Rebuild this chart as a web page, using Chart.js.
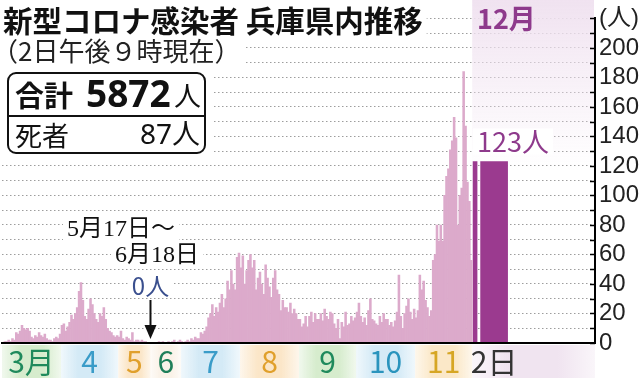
<!DOCTYPE html>
<html lang="ja">
<head>
<meta charset="utf-8">
<script src="https://cdn.jsdelivr.net/npm/chart.js@4.4.0/dist/chart.umd.min.js"></script>
<style>
html, body { margin: 0; padding: 0; background: #fff; }
canvas { display: block; }
</style>
</head>
<body>
<canvas id="kansenChart" width="640" height="378"></canvas>
<script>
// 兵庫県内の新規感染者（日別）。5月18日～6月14日は0人なので省略
const monthLabels = ['3月', '4', '5', '6', '7', '8', '9', '10', '11', '2日'];
const march = [0, 1, 1, 2, 1, 3, 2, 7, 6, 8, 12, 10, 9, 10, 8, 4, 3, 5, 4, 7, 5, 4, 6, 3, 2, 2, 1, 3, 4, 3, 6];
const april = [12, 13, 8, 11, 14, 19, 16, 20, 24, 35, 41, 29, 18, 16, 23, 30, 26, 20, 16, 14, 20, 18, 24, 16, 10, 8, 7, 5, 4, 5];
const may = [4, 8, 3, 2, 4, 3, 2, 7, 1, 2, 2, 1, 2, 1, 1, 0, 0];           // 5/1～5/17
const june = [0, 0, 0, 0, 1, 0, 1, 0, 0, 1, 0, 1, 2, 0, 1, 2];             // 6/15～6/30
const july = [1, 0, 1, 2, 1, 3, 2, 4, 3, 3, 7, 6, 8, 11, 17, 20, 26, 18, 24, 21, 27, 33, 24, 30, 42, 36, 49, 40, 36, 58, 61];
const aug = [51, 59, 40, 49, 56, 60, 51, 56, 36, 44, 48, 40, 33, 53, 44, 38, 31, 44, 49, 36, 33, 22, 29, 24, 24, 21, 27, 20, 23, 20, 16];
const sep = [16, 11, 13, 18, 11, 18, 21, 14, 20, 16, 16, 20, 15, 23, 18, 16, 21, 20, 13, 10, 16, 3, 14, 11, 21, 12, 13, 18, 15, 17];
const oct = [21, 27, 18, 14, 17, 12, 22, 30, 16, 15, 13, 12, 18, 14, 20, 16, 16, 12, 14, 11, 15, 21, 46, 18, 10, 20, 25, 30, 21, 16, 23];
const nov = [17, 22, 46, 36, 42, 29, 24, 18, 22, 56, 60, 80, 69, 80, 69, 100, 113, 118, 131, 137, 153, 139, 80, 100, 105, 184, 147, 109, 96, 56];
const dec = [123, 123];
const yMax = 220;
const yUnit = '(人)';

// 月ごとの色
const bandColors = ['214,236,205', '212,234,246', '251,230,200', '250,242,232', '212,234,246', '251,230,200', '214,236,205', '212,234,246', '251,232,200', '240,228,240'];
const labelColors = ['#1f8a5c', '#3a9cc8', '#e0a02c', '#1f7f5a', '#3a9cc8', '#e0a02c', '#1f8a5c', '#2a94bd', '#d6a624', '#333333'];

const dayPoints = [];
const monthRanges = [];
let idx = 0;
[march, april, may, june, july, aug, sep, oct, nov].forEach(m => {
    const start = idx;
    m.forEach(v => dayPoints.push({ x: idx++, y: v }));
    monthRanges.push([start - 0.5, idx - 0.5]);
});
const xMax = idx + 64;
const dec1Point = [{ x: idx + 1, y: dec[0] }];
const dec2Point = [{ x: idx + 11, y: dec[1] }];
monthRanges.push([idx - 0.5, xMax]);
const tickPos = monthRanges.map((r, i) => i < 9 ? (r[0] + r[1]) / 2 : idx + 11);

const jp = '"Noto Sans CJK JP"';

function putText(c, text, x, y, font, color, align, bg) {
    c.font = font;
    c.textAlign = align || 'left';
    c.textBaseline = 'middle';
    if (bg) {
        const w = c.measureText(text).width;
        const lx = align === 'center' ? x - w / 2 : align === 'right' ? x - w : x;
        c.fillStyle = '#fff';
        c.fillRect(lx - 4, y - bg / 2, w + 8, bg);
    }
    c.fillStyle = color;
    c.fillText(text, x, y);
}

const decor = {
    id: 'decor',
    beforeDraw(chart) {
        const { ctx, scales: { x }, chartArea: a } = chart;
        ctx.save();
        monthRanges.forEach((r, i) => {
            const x0 = x.getPixelForValue(r[0]);
            const x1 = Math.min(x.getPixelForValue(r[1]), a.right);
            const g = ctx.createLinearGradient(x0, 0, x1, 0);
            g.addColorStop(0, 'rgba(' + bandColors[i] + ',0.35)');
            g.addColorStop(0.3, 'rgba(' + bandColors[i] + ',1)');
            g.addColorStop(0.7, 'rgba(' + bandColors[i] + ',1)');
            g.addColorStop(1, 'rgba(' + bandColors[i] + ',0.35)');
            ctx.fillStyle = g;
            ctx.fillRect(x0, a.bottom + 2, x1 - x0, chart.height - a.bottom - 2);
        });
        ctx.restore();
    },
    beforeDatasetsDraw(chart) {
        const { ctx, scales: { x }, chartArea: a } = chart;
        const x0 = x.getPixelForValue(monthRanges[9][0]);
        const g = ctx.createLinearGradient(0, 0, 0, 170);
        g.addColorStop(0, 'rgba(240,226,240,1)');
        g.addColorStop(0.35, 'rgba(240,226,240,0.6)');
        g.addColorStop(1, 'rgba(240,226,240,0)');
        ctx.save();
        ctx.fillStyle = g;
        ctx.fillRect(x0, 0, a.right - x0 - 1, 170);
        ctx.restore();
    },
    afterDraw(chart) {
        const { ctx, scales: { x, y }, chartArea: a } = chart;
        ctx.save();
        // 目盛り（内向き）
        ctx.strokeStyle = '#000';
        ctx.lineWidth = 1.5;
        y.ticks.forEach(t => {
            const py = Math.round(y.getPixelForValue(t.value)) + 0.5;
            ctx.beginPath();
            ctx.moveTo(a.right - 5, py);
            ctx.lineTo(a.right, py);
            ctx.stroke();
        });

        // 見出し
        putText(ctx, '新型コロナ感染者 兵庫県内推移', 3, 21, 'bold 29.5px ' + jp, '#111', 'left', 36);
        putText(ctx, '（2日午後９時現在）', -8, 51, '26px ' + jp, '#222', 'left', 24);

        // 合計の枠
        ctx.fillStyle = '#fff';
        ctx.fillRect(0, 67, 214, 92);
        ctx.lineWidth = 2;
        ctx.strokeStyle = '#111';
        ctx.beginPath();
        ctx.roundRect(8, 73, 197, 80, 8);
        ctx.stroke();
        ctx.beginPath();
        ctx.moveTo(8, 116);
        ctx.lineTo(205, 116);
        ctx.stroke();
        putText(ctx, '合計', 15, 96, 'bold 29px ' + jp, '#111');
        putText(ctx, '5872', 86, 96, 'bold 37px "Noto Sans"', '#111');
        putText(ctx, '人', 174, 96, '27px ' + jp, '#111');
        putText(ctx, '死者', 15, 136, '27px ' + jp, '#111');
        putText(ctx, '87人', 200, 136, '28px "Noto Sans", ' + jp, '#111', 'right');

        // 12月
        putText(ctx, '12月', 477, 19, 'bold 27px "Liberation Sans Narrow", ' + jp, '#8e3a8c');
        putText(ctx, '123人', 477, y.getPixelForValue(dec[1]) - 20, '27px "Liberation Sans Narrow", ' + jp, '#8e3a8c', 'left', 26);

        // 0人の期間
        const ax = x.getPixelForValue(monthRanges[2][1]);
        putText(ctx, '5月17日～', 67, 230, '24px "Liberation Serif", ' + jp, '#111', 'left', 26);
        putText(ctx, '6月18日', 115, 256, '24px "Liberation Serif", ' + jp, '#111', 'left', 26);
        putText(ctx, '0人', ax, 286, '24px ' + jp, '#3a4f8e', 'center', 24);
        ctx.strokeStyle = '#111';
        ctx.lineWidth = 2;
        ctx.beginPath();
        ctx.moveTo(ax, 300);
        ctx.lineTo(ax, 327);
        ctx.stroke();
        ctx.fillStyle = '#111';
        ctx.beginPath();
        ctx.moveTo(ax - 6, 325);
        ctx.lineTo(ax + 6, 325);
        ctx.lineTo(ax, 339);
        ctx.closePath();
        ctx.fill();
        ctx.restore();
    }
};

const ctx = document.getElementById('kansenChart').getContext('2d');

const myChart = new Chart(ctx, {
    type: 'bar',
    data: {
        datasets: [
            { data: dayPoints, backgroundColor: '#dcaacb', barPercentage: 1, categoryPercentage: 1 },
            { data: dec1Point, backgroundColor: '#9b3a8f', barThickness: 4 },
            { data: dec2Point, backgroundColor: '#9b3a8f', barThickness: 27 }
        ]
    },
    options: {
        responsive: false,
        animation: false,
        layout: { padding: { top: 13, left: 2, right: 0, bottom: 0 } },
        datasets: { bar: { grouped: false, borderWidth: 0 } },
        plugins: {
            legend: { display: false },
            tooltip: { enabled: false }
        },
        scales: {
            x: {
                type: 'linear',
                offset: false,
                min: -0.5,
                max: xMax,
                grid: { display: false, drawTicks: false },
                border: { display: true, color: '#000', width: 2, z: 1 },
                afterBuildTicks: s => { s.ticks = tickPos.map(v => ({ value: v })); },
                afterFit: s => { s.height = 35; },
                ticks: {
                    autoSkip: false,
                    maxRotation: 0,
                    padding: 1,
                    font: { family: '"Liberation Sans Narrow", "Noto Sans CJK JP"', size: 30 },
                    color: c => labelColors[c.index],
                    callback: (v, i) => monthLabels[i]
                }
            },
            y: {
                position: 'right',
                min: 0,
                max: yMax,
                grid: { color: '#9d9d9d', lineWidth: 1, drawTicks: false },
                border: { display: true, color: '#000', width: 2, dash: [1.5, 2.5], z: 1 },
                afterFit: s => { s.width = 45; },
                ticks: {
                    autoSkip: false,
                    stepSize: 10,
                    padding: 4,
                    color: '#222',
                    font: { family: '"Liberation Sans", "Noto Sans CJK JP"', size: 24 },
                    callback: v => v === yMax ? yUnit : (v % 20 === 0 ? v : '')
                }
            }
        }
    },
    plugins: [decor]
});
</script>
</body>
</html>
